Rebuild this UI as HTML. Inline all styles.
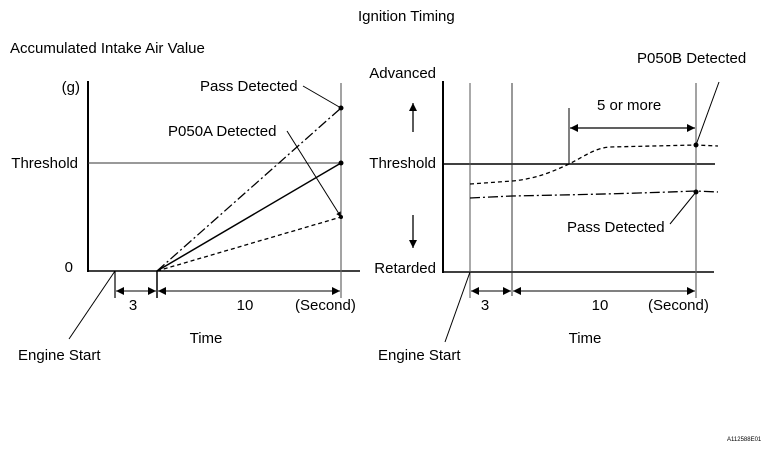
<!DOCTYPE html>
<html>
<head>
<meta charset="utf-8">
<style>
html,body{margin:0;padding:0;background:#fff;}
svg{display:block;}
text{font-family:"Liberation Sans",Arial,sans-serif;font-size:15px;fill:#000;}
</style>
</head>
<body>
<svg width="784" height="452" viewBox="0 0 784 452" xmlns="http://www.w3.org/2000/svg">
<defs>
<marker id="ah" viewBox="0 0 10 10" refX="10" refY="5" markerWidth="12" markerHeight="8" markerUnits="userSpaceOnUse" orient="auto-start-reverse">
<path d="M0,0 L10,5 L0,10 Z" fill="#000"/>
</marker>
<marker id="ahs" viewBox="0 0 10 10" refX="10" refY="5" markerWidth="7" markerHeight="5" markerUnits="userSpaceOnUse" orient="auto">
<path d="M0,0 L10,5 L0,10 Z" fill="#000"/>
</marker>
</defs>

<text x="358" y="21">Ignition Timing</text>

<!-- LEFT CHART -->
<text x="10" y="53">Accumulated Intake Air Value</text>
<text x="80" y="92" text-anchor="end">(g)</text>
<text x="78" y="168" text-anchor="end">Threshold</text>
<text x="73" y="272" text-anchor="end">0</text>

<line x1="88" y1="81" x2="88" y2="272" stroke="#000" stroke-width="2"/>
<line x1="87" y1="271" x2="360" y2="271" stroke="#000" stroke-width="1.5"/>
<line x1="88" y1="163" x2="341" y2="163" stroke="#333" stroke-width="1"/>
<line x1="341" y1="83" x2="341" y2="298" stroke="#666" stroke-width="1.2"/>
<line x1="115" y1="271" x2="115" y2="298" stroke="#000" stroke-width="1.2"/>
<line x1="157" y1="271" x2="157" y2="298" stroke="#000" stroke-width="1.5"/>

<!-- series -->
<line x1="157" y1="271" x2="341" y2="108" stroke="#000" stroke-width="1.3" stroke-dasharray="10,3,2,3"/>
<line x1="157" y1="271" x2="341" y2="163" stroke="#000" stroke-width="1.5"/>
<line x1="157" y1="271" x2="341" y2="217" stroke="#000" stroke-width="1.3" stroke-dasharray="4,3"/>
<circle cx="341" cy="108" r="2.5" fill="#000"/>
<circle cx="341" cy="163" r="2.5" fill="#000"/>
<circle cx="341" cy="217" r="2" fill="#000"/>

<!-- leaders -->
<text x="200" y="91">Pass Detected</text>
<line x1="303" y1="86" x2="341" y2="108" stroke="#000" stroke-width="1"/>
<text x="168" y="136">P050A Detected</text>
<line x1="287" y1="131" x2="341" y2="217" stroke="#000" stroke-width="1" marker-end="url(#ahs)"/>

<!-- dimensions -->
<line x1="116" y1="291" x2="156" y2="291" stroke="#000" stroke-width="1" marker-start="url(#ah)" marker-end="url(#ah)" />
<line x1="158" y1="291" x2="340" y2="291" stroke="#000" stroke-width="1" marker-start="url(#ah)" marker-end="url(#ah)"/>
<text x="133" y="310" text-anchor="middle">3</text>
<text x="245" y="310" text-anchor="middle">10</text>
<text x="295" y="310">(Second)</text>
<text x="206" y="343" text-anchor="middle">Time</text>
<text x="18" y="360">Engine Start</text>
<line x1="115" y1="271" x2="69" y2="339" stroke="#000" stroke-width="1"/>

<!-- RIGHT CHART -->
<text x="436" y="78" text-anchor="end">Advanced</text>
<text x="436" y="168" text-anchor="end">Threshold</text>
<text x="436" y="273" text-anchor="end">Retarded</text>
<line x1="413" y1="132" x2="413" y2="103" stroke="#000" stroke-width="1.3" marker-end="url(#ah)"/>
<line x1="413" y1="215" x2="413" y2="248" stroke="#000" stroke-width="1.3" marker-end="url(#ah)"/>

<line x1="443" y1="81" x2="443" y2="273" stroke="#000" stroke-width="2"/>
<line x1="442" y1="272" x2="714" y2="272" stroke="#000" stroke-width="1.5"/>
<line x1="443" y1="164" x2="715" y2="164" stroke="#000" stroke-width="1.4"/>
<line x1="470" y1="83" x2="470" y2="298" stroke="#555" stroke-width="1"/>
<line x1="512" y1="83" x2="512" y2="296" stroke="#333" stroke-width="1"/>
<line x1="696" y1="83" x2="696" y2="298" stroke="#666" stroke-width="1.2"/>
<line x1="569" y1="108" x2="569" y2="164" stroke="#000" stroke-width="1"/>

<!-- 5 or more -->
<text x="597" y="110">5 or more</text>
<line x1="570" y1="128" x2="695" y2="128" stroke="#000" stroke-width="1.2" marker-start="url(#ah)" marker-end="url(#ah)"/>

<!-- curves -->
<path d="M470,184 L512,181 C535,179 552,172 569,164 C585,156 595,148 610,147 L696,145 L718,146" fill="none" stroke="#000" stroke-width="1.3" stroke-dasharray="4,3"/>
<path d="M470,198 L512,196 C560,195 620,194 696,191 L718,192" fill="none" stroke="#000" stroke-width="1.3" stroke-dasharray="10,3,2,3"/>
<circle cx="696" cy="145" r="2.5" fill="#000"/>
<circle cx="696" cy="192" r="2.5" fill="#000"/>

<text x="637" y="63">P050B Detected</text>
<line x1="719" y1="82" x2="696" y2="145" stroke="#000" stroke-width="1"/>
<text x="567" y="232">Pass Detected</text>
<line x1="670" y1="224" x2="696" y2="192" stroke="#000" stroke-width="1"/>

<!-- dimensions right -->
<line x1="471" y1="291" x2="511" y2="291" stroke="#000" stroke-width="1" marker-start="url(#ah)" marker-end="url(#ah)"/>
<line x1="513" y1="291" x2="695" y2="291" stroke="#000" stroke-width="1" marker-start="url(#ah)" marker-end="url(#ah)"/>
<text x="485" y="310" text-anchor="middle">3</text>
<text x="600" y="310" text-anchor="middle">10</text>
<text x="648" y="310">(Second)</text>
<text x="585" y="343" text-anchor="middle">Time</text>
<text x="378" y="360">Engine Start</text>
<line x1="470" y1="272" x2="445" y2="342" stroke="#000" stroke-width="1"/>

<text x="727" y="441" style="font-size:6px">A112588E01</text>
</svg>
</body>
</html>
